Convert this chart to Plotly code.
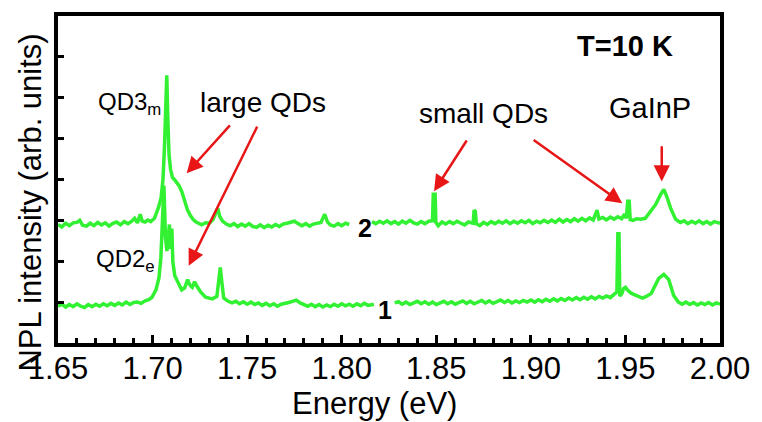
import plotly.graph_objects as go

# ---------------- data ----------------
# spectrum 2, left segment
e2a = [1.650, 1.652, 1.654, 1.656, 1.658, 1.660, 1.6615, 1.663, 1.665, 1.667, 1.669, 1.671,
       1.673, 1.675, 1.677, 1.679, 1.681, 1.683, 1.685, 1.687, 1.689, 1.6905, 1.692, 1.6935,
       1.6945, 1.696, 1.6975, 1.699, 1.701, 1.703, 1.7045, 1.7055, 1.7063, 1.7070, 1.7075,
       1.7080, 1.7087, 1.7095, 1.7105, 1.7115, 1.7125, 1.7140, 1.7155, 1.7170, 1.7185, 1.7200,
       1.7215, 1.7230, 1.7245, 1.726, 1.728, 1.730, 1.732, 1.733, 1.7345, 1.7355, 1.737, 1.739,
       1.741, 1.743, 1.745, 1.747, 1.749, 1.751, 1.753, 1.755, 1.757, 1.759, 1.761, 1.763,
       1.765, 1.767, 1.769, 1.771, 1.773, 1.775, 1.777, 1.779, 1.781, 1.783, 1.785, 1.787,
       1.789, 1.791, 1.7925, 1.794, 1.796, 1.798, 1.800, 1.802, 1.804]
i2a = [2.90, 2.84, 2.93, 2.87, 2.94, 2.95, 3.00, 2.88, 2.86, 2.93, 2.87, 2.95,
       2.89, 2.94, 2.86, 2.93, 2.96, 2.89, 2.97, 2.92, 2.98, 3.05, 2.94, 3.15,
       2.98, 2.96, 3.01, 2.97, 3.05, 3.30, 3.55, 4.00, 4.80, 5.80, 6.55,
       5.60, 4.60, 4.25, 4.05, 4.00, 3.95, 3.85, 3.70, 3.45, 3.25, 3.12,
       3.02, 2.96, 2.93, 2.89, 2.94, 2.93, 3.02, 3.12, 3.30, 3.10, 2.98, 2.91,
       2.87, 2.92, 2.85, 2.91, 2.86, 2.92, 2.85, 2.83, 2.89, 2.82, 2.88, 2.84,
       2.90, 2.85, 2.91, 2.93, 2.96, 2.98, 2.92, 2.87, 2.92, 2.86, 2.91, 2.92,
       2.95, 3.15, 2.96, 2.89, 2.86, 2.92, 2.87, 2.93, 2.90]

# spectrum 2, right segment
e2b = [1.816, 1.818, 1.820, 1.822, 1.824, 1.826, 1.828, 1.830, 1.832, 1.834, 1.836, 1.838,
       1.840, 1.842, 1.844, 1.846, 1.8480, 1.8484, 1.8494, 1.8498, 1.851, 1.853, 1.855, 1.857,
       1.859, 1.861, 1.863, 1.865, 1.867, 1.8695, 1.8700, 1.8706, 1.8712, 1.873, 1.875, 1.877,
       1.879, 1.881, 1.883, 1.885, 1.887, 1.889, 1.891, 1.893, 1.895, 1.897, 1.899, 1.901,
       1.903, 1.905, 1.907, 1.909, 1.911, 1.913, 1.915, 1.917, 1.919, 1.921, 1.923, 1.925,
       1.927, 1.929, 1.931, 1.933, 1.935, 1.936, 1.938, 1.940, 1.942, 1.944, 1.946, 1.948,
       1.9495, 1.9505, 1.9512, 1.9520, 1.9525, 1.954, 1.956, 1.958, 1.9605, 1.963, 1.966,
       1.9687, 1.9703, 1.9718, 1.9739, 1.9765, 1.979, 1.981, 1.983, 1.985, 1.987, 1.989,
       1.991, 1.993, 1.995, 1.997, 2.000]
i2b = [2.97, 2.92, 2.98, 2.93, 2.99, 2.92, 2.97, 2.91, 2.98, 2.93, 3.00, 2.94,
       2.91, 2.97, 2.92, 2.98, 2.99, 3.64, 3.64, 2.95, 2.87, 2.96, 2.91, 2.97,
       2.92, 2.98, 2.93, 2.89, 2.96, 2.93, 3.25, 3.22, 2.92, 2.87, 2.95, 2.90,
       2.97, 2.92, 2.98, 2.93, 2.99, 2.92, 2.98, 2.93, 2.99, 2.94, 3.00, 2.92,
       2.98, 2.94, 3.00, 2.95, 3.01, 2.95, 3.03, 2.96, 3.02, 2.97, 3.04, 2.98,
       3.05, 2.99, 3.06, 3.01, 3.25, 3.03, 3.07, 3.01, 3.08, 3.03, 3.09, 3.04,
       3.15, 3.05, 3.47, 3.47, 3.02, 3.00, 3.04, 3.03, 3.05, 3.20, 3.39,
       3.64, 3.76, 3.59, 3.30, 3.03, 2.95, 2.99, 2.92, 2.98, 2.93, 2.99,
       2.92, 2.97, 2.91, 2.97, 2.93]

# spectrum 1, left segment
e1a = [1.650, 1.652, 1.654, 1.656, 1.658, 1.660, 1.662, 1.664, 1.666, 1.668, 1.670, 1.672,
       1.674, 1.676, 1.678, 1.680, 1.682, 1.684, 1.686, 1.688, 1.690, 1.692, 1.694, 1.696,
       1.698, 1.6997, 1.7018, 1.7034, 1.7044, 1.7052, 1.7060, 1.7068, 1.7076, 1.7083, 1.7089,
       1.7094, 1.7102, 1.7107, 1.7117, 1.7138, 1.7154, 1.7170, 1.7185, 1.7191, 1.7200, 1.7210,
       1.7222, 1.7233, 1.7254, 1.7280, 1.7300, 1.7316, 1.7340, 1.7350, 1.7358, 1.7366, 1.7376,
       1.740, 1.742, 1.744, 1.746, 1.748, 1.750, 1.752, 1.754, 1.756, 1.758, 1.760, 1.762,
       1.764, 1.766, 1.768, 1.770, 1.772, 1.774, 1.776, 1.778, 1.780, 1.782, 1.784, 1.786,
       1.788, 1.790, 1.792, 1.794, 1.796, 1.798, 1.800, 1.802, 1.804, 1.806, 1.808, 1.810,
       1.812, 1.814, 1.817]
i1a = [0.90, 0.95, 0.88, 0.94, 0.89, 0.96, 0.90, 0.87, 0.94, 0.89, 0.95, 0.90,
       0.96, 0.91, 0.97, 0.92, 0.98, 0.93, 1.00, 0.94, 0.99, 1.00, 0.97, 1.03,
       1.06, 1.12, 1.30, 1.60, 2.10, 3.00, 3.85, 2.60, 2.25, 2.60, 2.90,
       2.30, 2.80, 2.00, 1.65, 1.45, 1.30, 1.35, 1.55, 1.48, 1.40, 1.36,
       1.50, 1.40, 1.25, 1.12, 1.10, 1.08, 1.14, 1.60, 1.85, 1.50, 1.10,
       1.02, 0.98, 1.02, 0.96, 1.01, 0.95, 1.00, 0.94, 0.98, 0.92, 0.97, 0.91,
       0.96, 0.90, 0.95, 0.96, 0.99, 1.02, 1.05, 0.98, 0.93, 0.90, 0.95, 0.89,
       0.94, 0.88, 0.93, 0.89, 0.95, 0.90, 0.96, 0.91, 0.95, 0.90, 0.96, 0.91,
       0.97, 0.92, 0.95]

# spectrum 1, right segment
e1b = [1.828, 1.830, 1.832, 1.834, 1.836, 1.838, 1.840, 1.842, 1.844, 1.846, 1.848, 1.850,
       1.852, 1.854, 1.856, 1.858, 1.860, 1.862, 1.864, 1.866, 1.868, 1.870, 1.872, 1.874,
       1.876, 1.878, 1.880, 1.882, 1.884, 1.886, 1.888, 1.890, 1.892, 1.894, 1.896, 1.898,
       1.900, 1.902, 1.904, 1.906, 1.908, 1.910, 1.912, 1.914, 1.916, 1.918, 1.920, 1.922,
       1.924, 1.926, 1.928, 1.930, 1.932, 1.934, 1.936, 1.938, 1.940, 1.942, 1.944, 1.9455,
       1.9460, 1.9466, 1.9470, 1.9480, 1.9490, 1.9500, 1.9510, 1.953, 1.955, 1.957, 1.959,
       1.961, 1.9636, 1.9676, 1.9703, 1.9729, 1.9755, 1.978, 1.980, 1.982, 1.984, 1.986,
       1.988, 1.990, 1.992, 1.994, 1.996, 1.998, 2.000]
i1b = [0.98, 1.01, 0.95, 1.00, 0.94, 0.99, 1.02, 0.96, 1.01, 0.95, 1.00, 0.94,
       0.99, 1.02, 0.96, 1.01, 0.95, 1.00, 1.03, 0.97, 1.02, 0.96, 1.01, 1.04,
       0.98, 1.03, 0.97, 1.02, 1.05, 0.99, 1.04, 0.98, 1.03, 0.99, 1.04, 1.00,
       1.05, 1.00, 1.06, 1.01, 1.07, 1.02, 1.08, 1.03, 1.09, 1.04, 1.10, 1.05,
       1.11, 1.06, 1.12, 1.07, 1.13, 1.08, 1.14, 1.10, 1.15, 1.11, 1.18, 1.25,
       2.67, 2.67, 1.15, 1.20, 1.33, 1.36, 1.30, 1.22, 1.18, 1.13, 1.10,
       1.14, 1.21, 1.58, 1.68, 1.55, 1.16, 1.00, 0.95, 1.00, 0.94, 0.99,
       0.93, 0.98, 0.94, 0.99, 0.93, 0.98, 0.95]

x_tickvals = [1.65, 1.70, 1.75, 1.80, 1.85, 1.90, 1.95, 2.00]
x_ticktext = ["1.65", "1.70", "1.75", "1.80", "1.85", "1.90", "1.95", "2.00"]
y_tickvals = [1, 2, 3, 4, 5, 6, 7]

# ---------------- figure ----------------
GREEN = "rgb(50,240,50)"
RED = "rgb(232,22,22)"
FONT = "Arial, Liberation Sans, sans-serif"

fig = go.Figure()
for ex, iy in [(e2a, i2a), (e2b, i2b), (e1a, i1a), (e1b, i1b)]:
    fig.add_trace(go.Scatter(x=ex, y=iy, mode="lines",
                             line=dict(color=GREEN, width=3.5), showlegend=False,
                             hoverinfo="skip"))

annotations = []

def txt(x, y, s, size, bold=False, xanchor="center"):
    if bold:
        s = "<b>" + s + "</b>"
    annotations.append(dict(x=x, y=y, xref="x", yref="y", text=s, showarrow=False,
                            xanchor=xanchor, yanchor="middle",
                            font=dict(family=FONT, size=size, color="black")))

txt(1.9498, 7.27, "T=10 K", 29, bold=True)
txt(1.7583, 5.89, "large QDs", 28)
txt(1.8750, 5.62, "small QDs", 28)
txt(1.9629, 5.74, "GaInP", 29)
txt(1.6702, 5.85, "QD3<sub>m</sub>", 24, xanchor="left")
txt(1.6692, 2.02, "QD2<sub>e</sub>", 24, xanchor="left")
txt(1.8122, 2.81, "2", 25, bold=True)
txt(1.8227, 0.80, "1", 25, bold=True)

def arrow(xt, yt, xs, ys):
    annotations.append(dict(x=xt, y=yt, ax=xs, ay=ys, xref="x", yref="y",
                            axref="x", ayref="y", text="", showarrow=True,
                            arrowhead=2, arrowsize=1.3, arrowwidth=2.5,
                            arrowcolor=RED, standoff=0))

arrow(1.7180, 4.15, 1.7416, 5.36)
arrow(1.7191, 1.89, 1.7557, 5.33)
arrow(1.8488, 3.71, 1.8666, 4.99)
arrow(1.9483, 3.42, 1.9007, 4.99)
arrow(1.9692, 3.95, 1.9692, 4.85)

# axis titles
annotations.append(dict(x=0.478, y=-0.185, xref="paper", yref="paper",
                        text="Energy (eV)", showarrow=False,
                        xanchor="center", yanchor="middle",
                        font=dict(family=FONT, size=31, color="black")))
annotations.append(dict(x=-0.042, y=0.43, xref="paper", yref="paper",
                        text="NPL intensity (arb. units)", showarrow=False,
                        textangle=-90, xanchor="center", yanchor="middle",
                        font=dict(family=FONT, size=31, color="black")))

fig.update_layout(
    width=762, height=422,
    margin=dict(l=58, r=35, t=14, b=79),
    paper_bgcolor="white", plot_bgcolor="white",
    annotations=annotations,
    xaxis=dict(range=[1.65, 2.00], tickvals=x_tickvals, ticktext=x_ticktext,
               ticks="inside", ticklen=8, tickwidth=3, tickcolor="black",
               minor=dict(dtick=0.01, tick0=1.65, ticks="inside", ticklen=5,
                          tickwidth=2.5, tickcolor="black"),
               showline=True, linewidth=4, linecolor="black", mirror=True,
               showgrid=False, zeroline=False, ticklabelstandoff=-5,
               tickfont=dict(family=FONT, size=31, color="black")),
    yaxis=dict(range=[0, 8], tickvals=y_tickvals, showticklabels=False,
               ticks="inside", ticklen=6, tickwidth=3, tickcolor="black",
               showline=True, linewidth=4, linecolor="black", mirror=True,
               showgrid=False, zeroline=False),
)

fig.write_html("out.html")
